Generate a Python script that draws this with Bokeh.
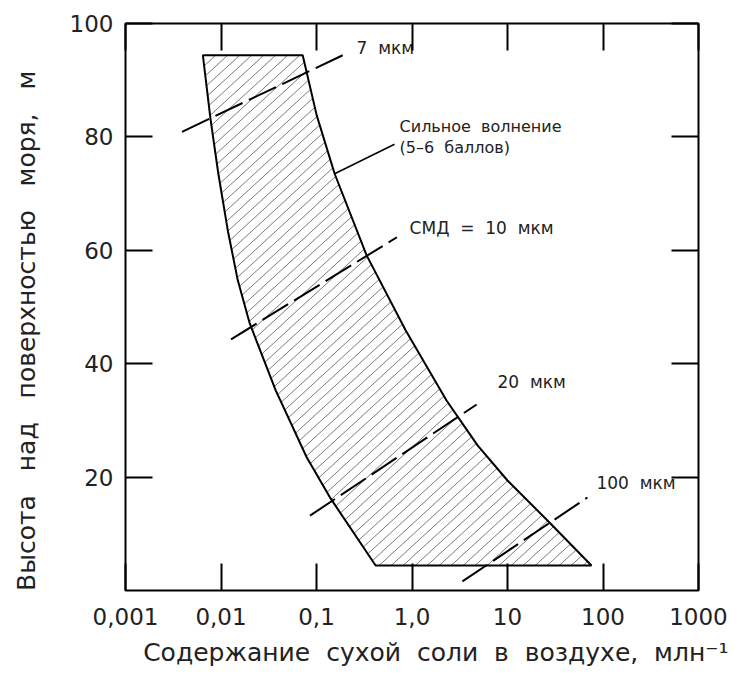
import base64
from bokeh.plotting import figure
from bokeh.models import LogAxis, LinearAxis, FixedTicker, Range1d, ColumnDataSource, ImageURLTexture
from bokeh.core.properties import value
from bokeh.embed import file_html
from bokeh.resources import INLINE

# ---- data ----
x_ticks = [0.001, 0.01, 0.1, 1, 10, 100, 1000]
x_tick_labels = ["0,001", "0,01", "0,1", "1,0", "10", "100", "1000"]
y_ticks = [20, 40, 60, 80, 100]
y_tick_labels = ["20", "40", "60", "80", "100"]

# left (low-salt) boundary of the band, top -> bottom
left_x = [0.00646, 0.00773, 0.00938, 0.01178, 0.01499, 0.0200, 0.0374, 0.0789, 0.141, 0.416]
left_y = [94.4, 83.4, 73.5, 63.5, 54.7, 47.1, 35.3, 23.5, 16.2, 4.4]
# right (high-salt) boundary of the band, top -> bottom
right_x = [0.0717, 0.1005, 0.1549, 0.335, 0.857, 2.30, 4.86, 10.0, 27.5, 75.7]
right_y = [94.4, 83.8, 73.5, 59.1, 45.9, 33.5, 25.6, 19.4, 12.0, 4.4]

NB = "\u00a0"
# lines of constant mean droplet size (СМД)
size_labels = ["7" + NB * 2 + "мкм",
               "СМД" + NB * 2 + "=" + NB * 2 + "10" + NB * 2 + "мкм",
               "20" + NB * 2 + "мкм",
               "100" + NB * 2 + "мкм"]
size_x0 = [0.00391, 0.01274, 0.0855, 3.37]
size_y0 = [80.9, 44.3, 13.2, 1.6]
size_x1 = [0.188, 0.695, 4.75, 68.7]
size_y1 = [94.4, 62.3, 32.8, 16.4]
size_label_x = [0.263, 0.944, 7.85, 85.3]
size_label_y = [95.6, 64.0, 36.7, 18.9]

band_label = ["Сильное" + NB * 2 + "волнение", "(5–6" + NB * 2 + "баллов)"]
band_label_x = [0.741, 0.741]
band_label_y = [81.8, 78.1]
leader_x = [0.1549, 0.656]
leader_y = [73.5, 78.7]

FONT = "DejaVu Sans"
TXT = "#222222"

# diagonal hatch tile
tw, th = 12, 11
svg_tile = (
    f'<svg xmlns="http://www.w3.org/2000/svg" width="{tw}" height="{th}">'
    f'<g stroke="#7a7a7a" stroke-width="1">'
    f'<line x1="{-2*tw}" y1="{2*th}" x2="{tw}" y2="{-th}"/>'
    f'<line x1="{-tw}" y1="{2*th}" x2="{2*tw}" y2="{-th}"/>'
    f'<line x1="0" y1="{2*th}" x2="{3*tw}" y2="{-th}"/>'
    f'</g></svg>'
)
tile_url = "data:image/svg+xml;base64," + base64.b64encode(svg_tile.encode()).decode()

p = figure(width=742, height=675, x_axis_type="log",
           x_range=Range1d(0.001, 1000), y_range=Range1d(0, 100),
           output_backend="svg", toolbar_location=None,
           min_border_left=125, min_border_right=44,
           min_border_top=23, min_border_bottom=85)
p.grid.visible = False
p.background_fill_color = "white"
p.border_fill_color = "white"
p.outline_line_color = "black"
p.outline_line_width = 2

# hatched band
band_x = left_x + right_x[::-1]
band_y = left_y + right_y[::-1]
p.patch(band_x, band_y, fill_color=None, line_color="black", line_width=2,
        hatch_pattern="diag",
        hatch_extra={"diag": ImageURLTexture(url=tile_url, repetition="repeat")})

# size lines
src = ColumnDataSource(dict(x0=size_x0, y0=size_y0, x1=size_x1, y1=size_y1))
p.segment("x0", "y0", "x1", "y1", source=src, line_color="black", line_width=2,
          line_dash="30 7")
p.text(size_label_x, size_label_y, text=size_labels, text_font=value(FONT),
       text_font_size="17px", text_color=TXT, text_baseline="middle", text_align="left")

p.line(leader_x, leader_y, line_color="black", line_width=1.5)
p.text(band_label_x, band_label_y, text=band_label, text_font=value(FONT),
       text_font_size="16px", text_color=TXT, text_baseline="middle", text_align="left")

def style(ax, labels=True):
    ax.axis_line_color = None
    ax.major_tick_in = 27
    ax.major_tick_out = 0
    ax.major_tick_line_color = "black"
    ax.major_tick_line_width = 2
    ax.minor_tick_line_color = None
    if labels:
        ax.major_label_text_font = FONT
        ax.major_label_text_font_size = "23px"
        ax.major_label_text_color = TXT
        ax.axis_label_text_font = FONT
        ax.axis_label_text_font_size = "25px"
        ax.axis_label_text_font_style = "normal"
        ax.axis_label_text_color = TXT
    else:
        ax.major_label_text_font_size = "1px"
        ax.major_label_text_color = None
        ax.major_label_standoff = 0

xt = FixedTicker(ticks=x_ticks, minor_ticks=[])
yt = FixedTicker(ticks=y_ticks, minor_ticks=[])

xa = p.xaxis[0]
xa.ticker = xt
xa.major_label_overrides = {t: l for t, l in zip(x_ticks, x_tick_labels)}
style(xa)
xa.major_label_standoff = 17
xa.axis_label = NB * 6 + (NB * 2).join(["Содержание", "сухой", "соли", "в", "воздухе,", "млн⁻¹"])
xa.axis_label_standoff = 10

ya = p.yaxis[0]
ya.ticker = yt
ya.major_label_overrides = {t: l for t, l in zip(y_ticks, y_tick_labels)}
style(ya)
ya.major_label_standoff = 12
ya.axis_label = (NB * 3).join(["Высота", "над", "поверхностью", "моря,", "м"]) + NB * 6
ya.axis_label_standoff = 26

top = LogAxis(ticker=FixedTicker(ticks=x_ticks, minor_ticks=[]))
style(top, labels=False)
p.add_layout(top, "above")
right = LinearAxis(ticker=FixedTicker(ticks=y_ticks, minor_ticks=[]))
style(right, labels=False)
p.add_layout(right, "right")

open("out.html", "w").write(file_html(p, INLINE))
